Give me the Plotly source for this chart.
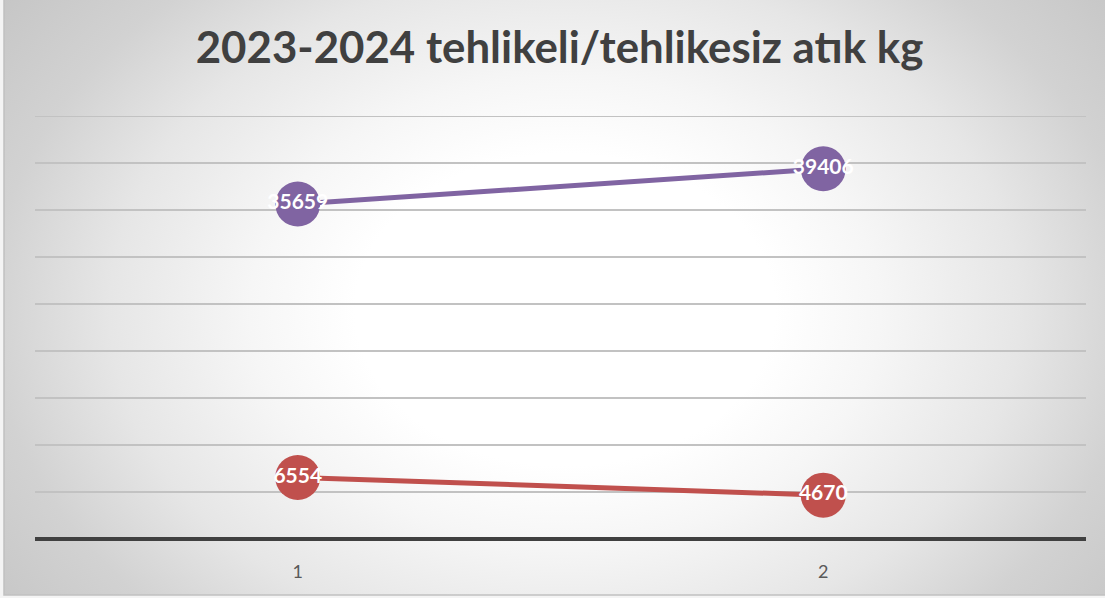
import base64
import plotly.graph_objects as go

categories = [1, 2]
tick_labels = ["1", "2"]
series_top = [35659, 39406]
series_bottom = [6554, 4670]
y_ticks = [0, 5000, 10000, 15000, 20000, 25000, 30000, 35000, 40000, 45000]

W, H = 1105, 598
ML, MR, MT, MB = 35, 19, 115, 59
PW, PH = W - ML - MR, H - MT - MB

svg = f'''<svg xmlns="http://www.w3.org/2000/svg" width="{W}" height="{H}" viewBox="0 0 {W} {H}">
<defs><radialGradient id="g" cx="0" cy="0" r="1" gradientUnits="userSpaceOnUse"
 gradientTransform="translate(565 310) scale(700 520)">
<stop offset="0" stop-color="#ffffff"/><stop offset="0.3" stop-color="#ffffff"/>
<stop offset="0.45" stop-color="#f6f6f6"/><stop offset="0.65" stop-color="#e6e6e6"/>
<stop offset="0.82" stop-color="#d2d2d2"/><stop offset="1" stop-color="#c6c6c6"/>
</radialGradient></defs>
<rect x="0" y="0" width="{W}" height="{H}" fill="#f4f4f4"/>
<rect x="4" y="-5" width="{W + 10}" height="600" fill="url(#g)" stroke="#c0c0c0" stroke-width="1.5"/>
</svg>'''
src = "data:image/svg+xml;base64," + base64.b64encode(svg.encode()).decode()

fig = go.Figure()
for vals, color in [(series_top, "#8064A2"), (series_bottom, "#C0504D")]:
    fig.add_trace(go.Scatter(
        x=categories, y=vals, mode="lines+markers+text",
        line=dict(color=color, width=5),
        marker=dict(size=45, color=color),
        text=[str(v) for v in vals], textposition="middle center",
        textfont=dict(family="Lato", size=21, color="white", weight="bold"),
        showlegend=False, cliponaxis=False, hoverinfo="skip",
    ))

fig.update_layout(
    width=W, height=H,
    margin=dict(l=ML, r=MR, t=MT, b=MB),
    paper_bgcolor="white", plot_bgcolor="rgba(0,0,0,0)",
    title=dict(text="<b>2023-2024 tehlikeli/tehlikesiz atık kg</b>",
               font=dict(family="Lato", size=43.8, color="#404040"),
               xref="container", x=559.5 / W, xanchor="center",
               y=1 - 48 / H, yanchor="middle"),
    xaxis=dict(range=[0.5, 2.5], tickvals=categories, ticktext=tick_labels,
               showgrid=False, zeroline=False, showline=False, ticks="",
               ticklabelstandoff=20,
               tickfont=dict(family="Lato", size=18, color="#595959")),
    yaxis=dict(range=[0, 45000 * 1.003], tickvals=y_ticks, showticklabels=False,
               showgrid=True, gridcolor="#c2c2c2", gridwidth=1.5,
               zeroline=True, zerolinecolor="#404040", zerolinewidth=3.5,
               showline=False, ticks=""),
    images=[dict(source=src, xref="paper", yref="paper",
                 x=-ML / PW, y=1 + MT / PH, sizex=W / PW, sizey=H / PH,
                 xanchor="left", yanchor="top", sizing="stretch", layer="below")],
)
fig.write_html("out.html", config={"displayModeBar": False, "staticPlot": True},
               post_script="document.body.style.margin='0';document.body.style.overflow='hidden';")
